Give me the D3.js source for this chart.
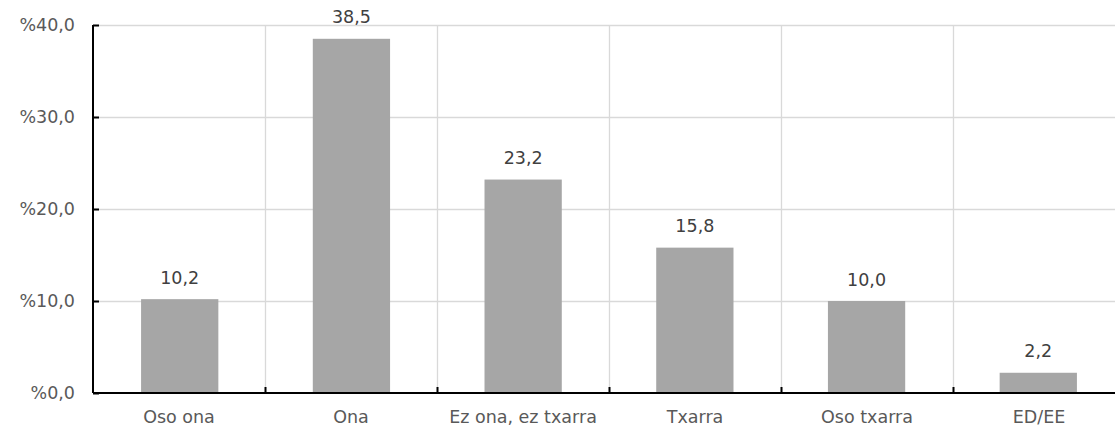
<!DOCTYPE html>
<html><head><meta charset="utf-8">
<script src="https://cdn.jsdelivr.net/npm/d3@7"></script>
<style>body{margin:0;background:#fff}svg{display:block}</style>
</head><body>
<script>
const categories = ["Oso ona","Ona","Ez ona, ez txarra","Txarra","Oso txarra","ED/EE"];
const values = [10.2,38.5,23.2,15.8,10.0,2.2];
const yTicks = [0,10,20,30,40];

(function(){
const W = 1115, H = 432;
const mLeft = 93, mTop = 25, mRight = 1125, mBottom = 393;
const svg = d3.select("body").append("svg").attr("width", W).attr("height", H);
const font = "'DejaVu Sans', Verdana, sans-serif";
const fs = 17.5;

const x = d3.scaleBand().domain(categories).range([mLeft, mRight]).paddingInner(0.55).paddingOuter(0.28);
const xb = d3.scaleBand().domain(categories).range([mLeft, mRight]);
const y = d3.scaleLinear().domain([0, 40]).range([mBottom, mTop]);

svg.append("g").selectAll("line").data(yTicks.slice(1)).join("line")
  .attr("x1", mLeft).attr("x2", mRight).attr("y1", d => y(d)+0.5).attr("y2", d => y(d)+0.5)
  .attr("stroke", "#d9d9d9").attr("stroke-width", 1.3);
svg.append("g").selectAll("line").data(categories.slice(1)).join("line")
  .attr("x1", d => xb(d)+0.5).attr("x2", d => xb(d)+0.5).attr("y1", mTop).attr("y2", mBottom)
  .attr("stroke", "#d9d9d9").attr("stroke-width", 1.3);

svg.append("g").selectAll("rect").data(values).join("rect")
  .attr("x", (d,i) => x(categories[i])).attr("width", x.bandwidth())
  .attr("y", d => y(d)).attr("height", d => mBottom - y(d))
  .attr("fill", "#a6a6a6");

svg.append("g").selectAll("text").data(values).join("text")
  .attr("x", (d,i) => x(categories[i]) + x.bandwidth()/2)
  .attr("y", d => y(d) - 15.5)
  .attr("text-anchor", "middle").attr("font-family", font).attr("font-size", fs)
  .attr("fill", "#404040").text(d => d.toFixed(1).replace(".", ","));

const yAxis = svg.append("g").attr("transform", `translate(${mLeft},0)`)
  .call(d3.axisLeft(y).tickValues(yTicks).tickSize(-6).tickPadding(18)
    .tickFormat(d => "%" + d.toFixed(1).replace(".", ",")));
yAxis.select(".domain").attr("stroke", "#000").attr("stroke-width", 2).attr("d", `M0,${mTop}V${mBottom}`);
yAxis.selectAll(".tick line").attr("stroke", "#000").attr("stroke-width", 2);
yAxis.selectAll("text").attr("font-family", font).attr("font-size", fs).attr("fill", "#595959");

const xAxis = svg.append("g").attr("transform", `translate(0,${mBottom})`)
  .call(d3.axisBottom(xb).tickSize(0).tickPadding(17.5));
xAxis.select(".domain").attr("stroke", "#000").attr("stroke-width", 2).attr("d", `M${mLeft},0H${mRight}`);
xAxis.selectAll("text").attr("font-family", font).attr("font-size", fs).attr("fill", "#595959");
svg.append("g").selectAll("line").data(categories.slice(1)).join("line")
  .attr("x1", d => xb(d)+0.5).attr("x2", d => xb(d)+0.5).attr("y1", mBottom).attr("y2", mBottom-6)
  .attr("stroke", "#000").attr("stroke-width", 2);
})();
</script>
</body></html>
